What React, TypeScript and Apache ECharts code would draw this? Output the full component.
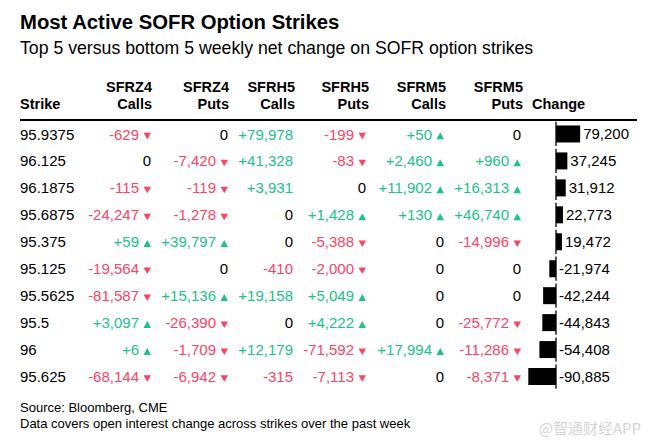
import React, { useEffect, useRef } from "react";
import * as echarts from "echarts";

const titleText = "Most Active SOFR Option Strikes";
const subtitleText = "Top 5 versus bottom 5 weekly net change on SOFR option strikes";
const footerLines = ["Source: Bloomberg, CME", "Data covers open interest change across strikes over the past week"];
const watermark = "@智通财经APP";

const strikes = ["95.9375", "96.125", "96.1875", "95.6875", "95.375", "95.125", "95.5625", "95.5", "96", "95.625"];
const headerTop = ["SFRZ4", "SFRZ4", "SFRH5", "SFRH5", "SFRM5", "SFRM5"];
const headerBottom = ["Calls", "Puts", "Calls", "Puts", "Calls", "Puts"];
const sfrz4Calls = [-629, 0, -115, -24247, 59, -19564, -81587, 3097, 6, -68144];
const sfrz4Puts = [0, -7420, -119, -1278, 39797, 0, 15136, -26390, -1709, -6942];
const sfrh5Calls = [79978, 41328, 3931, 0, 0, -410, 19158, 0, 12179, -315];
const sfrh5Puts = [-199, -83, 0, 1428, -5388, -2000, 5049, 4222, -71592, -7113];
const sfrm5Calls = [50, 2460, 11902, 130, 0, 0, 0, 0, 17994, 0];
const sfrm5Puts = [0, 960, 16313, 46740, -14996, 0, 0, -25772, -11286, -8371];
const withArrows = [true, true, false, true, true, true];
const changeValues = [79200, 37245, 31912, 22773, 19472, -21974, -42244, -44843, -54408, -90885];

const FONT = "'Liberation Sans', Arial, Helvetica, sans-serif";
const RED = "#ff4362";
const GREEN = "#1cc28c";

const fmtAbs = (v: number) => Math.abs(v).toLocaleString("en-US");
const fmtSigned = (v: number) => (v > 0 ? "+" + fmtAbs(v) : v < 0 ? "-" + fmtAbs(v) : "0");
const fmtChange = (v: number) => (v < 0 ? "-" + fmtAbs(v) : fmtAbs(v));

export default function App() {
  const ref = useRef<HTMLDivElement>(null);
  useEffect(() => {
    document.body.style.margin = "0";
    if (!ref.current) return;
    const chart = echarts.init(ref.current, undefined, { renderer: "svg" });

    const columns = [sfrz4Calls, sfrz4Puts, sfrh5Calls, sfrh5Puts, sfrm5Calls, sfrm5Puts];
    const colRight = [151, 228, 293, 366, 444, 521];
    const headRight = [152, 229, 295, 369, 446, 523];
    const rowY = (i: number) => 134 + 26.95 * i;

    const graphics: any[] = [];
    graphics.push({ type: "text", x: 20, y: 22, style: { text: titleText, font: `bold 20.3px ${FONT}`, fill: "#000", verticalAlign: "middle" } });
    graphics.push({ type: "text", x: 20, y: 48, style: { text: subtitleText, font: `17.7px ${FONT}`, fill: "#000", verticalAlign: "middle" } });
    graphics.push({ type: "text", x: 20, y: 104, style: { text: "Strike", font: `bold 14.5px ${FONT}`, fill: "#000", verticalAlign: "middle" } });
    graphics.push({ type: "text", x: 532, y: 104, style: { text: "Change", font: `bold 14.5px ${FONT}`, fill: "#000", verticalAlign: "middle" } });
    headerTop.forEach((h, c) => {
      graphics.push({ type: "text", x: headRight[c], y: 87, style: { text: h, font: `bold 14.5px ${FONT}`, fill: "#000", align: "right", verticalAlign: "middle" } });
      graphics.push({ type: "text", x: headRight[c], y: 104, style: { text: headerBottom[c], font: `bold 14.5px ${FONT}`, fill: "#000", align: "right", verticalAlign: "middle" } });
    });
    graphics.push({ type: "rect", shape: { x: 20, y: 119, width: 617, height: 2 }, style: { fill: "#000" } });

    strikes.forEach((s, i) => {
      const y = rowY(i);
      graphics.push({ type: "text", x: 20, y, style: { text: s, font: `15px ${FONT}`, fill: "#000", verticalAlign: "middle" } });
      columns.forEach((col, c) => {
        const v = col[i];
        const color = v > 0 ? GREEN : v < 0 ? RED : "#000";
        const hasArrow = withArrows[c] && v !== 0;
        const r = colRight[c];
        graphics.push({
          type: "text",
          x: hasArrow ? r - 12 : r,
          y,
          style: { text: fmtSigned(v), font: `15px ${FONT}`, fill: color, align: "right", verticalAlign: "middle" },
        });
        if (hasArrow) {
          const base = y + 5.3;
          const pts = v < 0
            ? [[r - 7.5, base - 6.5], [r, base - 6.5], [r - 3.75, base]]
            : [[r - 7.5, base], [r, base], [r - 3.75, base - 7]];
          graphics.push({ type: "polygon", shape: { points: pts }, style: { fill: color } });
        }
      });
    });

    footerLines.forEach((t, k) => {
      graphics.push({ type: "text", x: 20, y: 407 + 16 * k, style: { text: t, font: `13px ${FONT}`, fill: "#000", verticalAlign: "middle" } });
    });
    graphics.push({ type: "text", x: 641, y: 427, style: { text: watermark, font: `15px 'Noto Sans CJK SC', sans-serif`, fill: "#d4d4d4", align: "right", verticalAlign: "middle" } });

    chart.setOption({
      animation: false,
      backgroundColor: "#fff",
      grid: { left: 525.5, width: 61, top: 120.5, height: 269.5 },
      xAxis: { type: "value", min: -100000, max: 100000, show: false },
      yAxis: { type: "category", data: strikes, inverse: true, show: false },
      graphic: graphics,
      series: [
        {
          type: "bar",
          data: changeValues,
          barWidth: 17,
          itemStyle: { color: "#000" },
          label: {
            show: true,
            position: "right",
            distance: 3,
            formatter: (p: any) => fmtChange(p.value),
            fontSize: 15,
            fontFamily: FONT,
            color: "#000",
          },
        },
        {
          type: "custom",
          encode: { x: 0, y: 1 },
          data: strikes.map((_, i) => [0, i]),
          renderItem: (params: any, api: any) => {
            const p = api.coord([0, api.value(1)]);
            const h = api.size([0, 1])[1];
            return {
              type: "line",
              shape: { x1: p[0], y1: p[1] - h * 0.45, x2: p[0], y2: p[1] + h * 0.45 },
              style: { stroke: "#000", lineWidth: 1.3 },
            };
          },
        },
      ],
    });
    return () => chart.dispose();
  }, []);
  return <div ref={ref} style={{ width: 649, height: 444 }} />;
}
